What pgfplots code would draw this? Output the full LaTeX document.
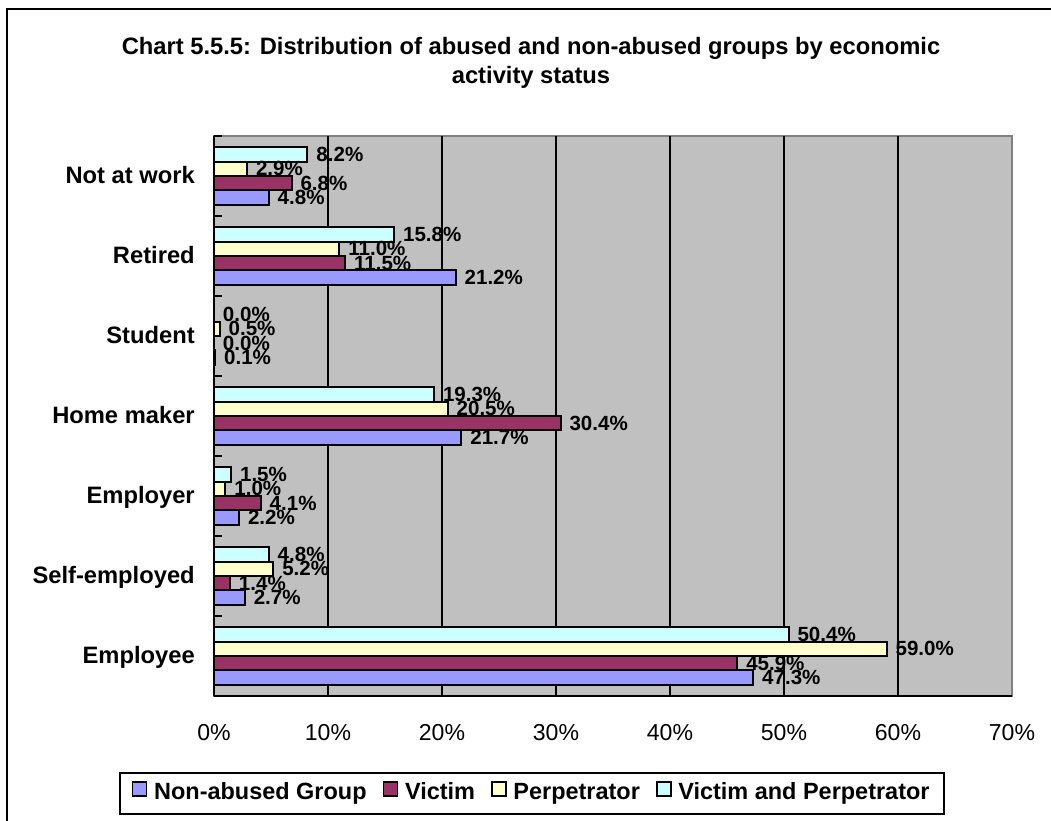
\documentclass[border=0pt]{standalone}
\usepackage{pgfplots}
\pgfplotsset{compat=1.18}
\usepackage{fontspec}
\setmainfont{Liberation Sans}
\definecolor{bggray}{HTML}{C0C0C0}
\definecolor{edgegray}{HTML}{808080}
\definecolor{cNon}{HTML}{9999FF}
\definecolor{cVic}{HTML}{993366}
\definecolor{cPer}{HTML}{FFFFCC}
\definecolor{cVP}{HTML}{CCFFFF}
\newcommand\fTitle{\fontsize{17.8}{21}\selectfont\bfseries}
\newcommand\fCat{\fontsize{17.8}{21}\selectfont\bfseries}
\newcommand\fTick{\fontsize{17.3}{20}\selectfont}
\newcommand\fLab{\fontsize{15.4}{18}\selectfont\bfseries}
\newcommand\fLeg{\fontsize{17.6}{21}\selectfont\bfseries}
\begin{document}
\begin{tikzpicture}
\begin{scope}[x=0.75pt,y=-0.75pt]
\useasboundingbox (0,0) rectangle (1051,821);
\fill[white] (0,0) rectangle (1051,821);
\draw[line width=1.5pt] (7,822) -- (7,9) -- (1052,9);
\node[font=\fTitle, anchor=base, inner sep=0pt] at (531,55) {Chart 5.5.5: Distribution of abused and non-abused groups by economic};
\node[font=\fTitle, anchor=base, inner sep=0pt] at (531,83) {activity status};
\end{scope}
\begin{axis}[
  at={(160.5pt,-522pt)}, anchor=south west,
  width=598.5pt, height=420pt, scale only axis,
  xbar, bar width=0.18,
  xmin=0, xmax=70, ymin=-0.5, ymax=6.5,
  /pgf/number format/assume math mode=true,
  axis background/.style={fill=bggray, draw=edgegray, line width=1.5pt},
  axis x line*=bottom, axis y line*=left,
  axis line style={black, line width=1.5pt},
  xtick={0,10,...,70},
  xticklabel={\pgfmathprintnumber{\tick}\%},
  x tick label style={font=\fTick, anchor=base, inner sep=0pt, yshift=-33pt},
  extra x ticks={10,20,...,60},
  extra x tick labels={},
  extra x tick style={xmajorgrids=true, major grid style={black, line width=1.5pt}},
  ytick={0,...,6},
  yticklabels={Employee, Self-employed, Employer, Home maker, Student, Retired, Not at work},
  y tick label style={font=\fCat, anchor=base east, inner sep=0pt, xshift=-14.25pt, yshift=-5.6pt},
  major tick length=0pt,
  minor ytick={-0.5,0.5,...,6.5},
  minor tick length=6pt, tick align=inside,
  every minor tick/.append style={black, line width=1.5pt},
  point meta=x,
  nodes near coords={\pgfmathprintnumber[fixed,fixed zerofill,precision=1]{\pgfplotspointmeta}\%},
  every node near coord/.append style={font=\fLab, anchor=west, inner sep=0pt, xshift=6pt, text=black},
  legend columns=4,
  legend style={at={(0.3985,-0.174)}, anchor=center, draw=black, line width=1.5pt, fill=white,
    font=\fLeg, inner xsep=9pt, inner ysep=5pt,
    nodes={text height=12.8pt, text depth=3.7pt},
    /tikz/every odd column/.append style={column sep=3pt},
    /tikz/every even column/.append style={column sep=10pt}},
  legend image code/.code={\draw[#1, line width=1.3pt] (0pt,-1.8pt) rectangle (10.5pt,8.7pt);},
  clip=false,
]
\addplot[fill=cNon, draw=black, line width=1.5pt, bar shift=-0.27] coordinates {(47.3,0) (2.7,1) (2.2,2) (21.7,3) (0.1,4) (21.2,5) (4.8,6)};
\addplot[fill=cVic, draw=black, line width=1.5pt, bar shift=-0.09] coordinates {(45.9,0) (1.4,1) (4.1,2) (30.4,3) (0.0,4) (11.5,5) (6.8,6)};
\addplot[fill=cPer, draw=black, line width=1.5pt, bar shift=0.09] coordinates {(59.0,0) (5.2,1) (1.0,2) (20.5,3) (0.5,4) (11.0,5) (2.9,6)};
\addplot[fill=cVP, draw=black, line width=1.5pt, bar shift=0.27] coordinates {(50.4,0) (4.8,1) (1.5,2) (19.3,3) (0.0,4) (15.8,5) (8.2,6)};
\legend{Non-abused Group, Victim, Perpetrator, Victim and Perpetrator}
\end{axis}
\end{tikzpicture}
\end{document}
